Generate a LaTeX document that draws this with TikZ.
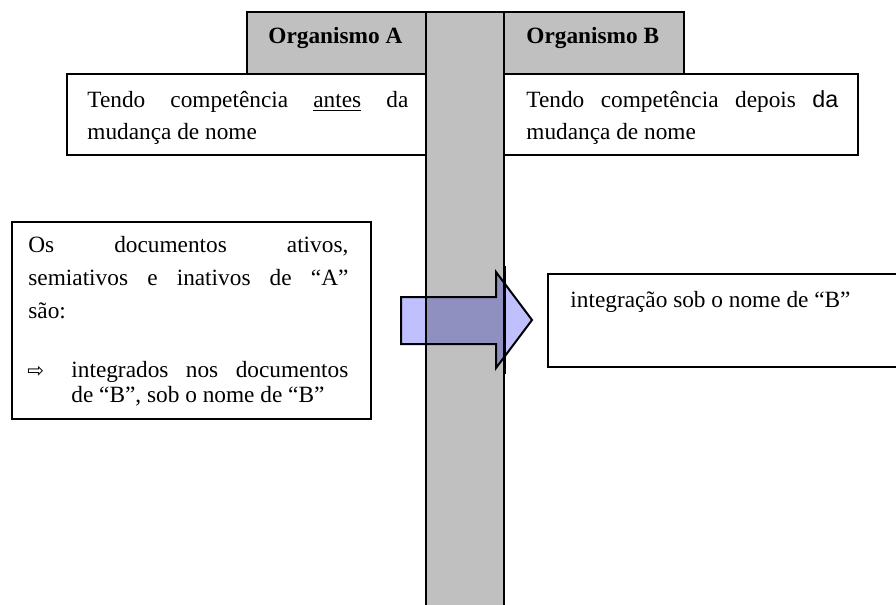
\documentclass[tikz,border=0pt]{standalone}
\usepackage{fontspec}
\setmainfont{Liberation Serif}
\newfontfamily\arialfont{Liberation Sans}
\newfontfamily\arrowfont{DejaVu Sans}
\usepackage{tikz}
\definecolor{colgray}{RGB}{192,192,192}
\definecolor{arrowblue}{RGB}{192,192,255}

\begin{document}
\begin{tikzpicture}[x=0.5pt, y=-0.5pt]
    \tikzstyle{box}=[draw, line width=1pt]
    \tikzstyle{txt}=[anchor=base west, inner sep=0pt, align=justify, font=\fontsize{11.65}{16.5}\selectfont]
    \tikzstyle{title}=[anchor=base west, inner sep=0pt, font=\fontsize{11.65}{14}\selectfont\bfseries]
    \useasboundingbox (0,0) rectangle (896,605);
    \clip (0,0) rectangle (896,605);
    % coluna
    \fill[colgray] (426,12) rectangle (504,615);
    \draw[box] (426,615) -- (426,12) -- (504,12) -- (504,615);
    \draw[box, fill=colgray] (247,12) rectangle (426,74);
    \draw[box, fill=colgray] (504,12) rectangle (684,74);
    \node[title] (orgA) at (268,43) {Organismo A};
    \node[title] (orgB) at (526,43) {Organismo B};
    % caixas
    \draw[box, fill=white] (67,74) rectangle (426,155);
    \draw[box, fill=white] (504,74) rectangle (858,155);
    \draw[box] (12,222) rectangle (371,419);
    \draw[box] (548,274) rectangle (910,367);
    \node[txt, text width=160.5pt] (antes) at (87,107)
      {Tendo competência \underline{antes} da\linebreak mudança de nome};
    \node[txt, text width=156pt] (depois) at (526,107)
      {Tendo competência depois {\arialfont da}\linebreak mudança de nome};
    \node[txt, text width=160pt] (docs) at (28,252)
      {Os documentos ativos,\linebreak semiativos e inativos de “A”\linebreak são:};
    \node[anchor=base west, inner sep=0pt, font=\arrowfont\fontsize{10}{10}\selectfont] (seta) at (27,377) {⇨};
    \node[txt, text width=138.5pt, font=\fontsize{11.65}{12.5}\selectfont] (integ) at (71,377)
      {integrados nos documentos\linebreak de “B”, sob o nome de “B”};
    \node[txt] (sob) at (570,307) {integração sob o nome de “B”};
    % seta
    \draw[line width=1pt, fill=arrowblue, blend mode=multiply]
      (401,297) -- (496,297) -- (496,272) -- (532,320) -- (496,368) -- (496,344) -- (401,344) -- cycle;
    \draw[line width=0.8pt] (426,266) -- (426,374) (505,266) -- (505,374);
\end{tikzpicture}
\end{document}
